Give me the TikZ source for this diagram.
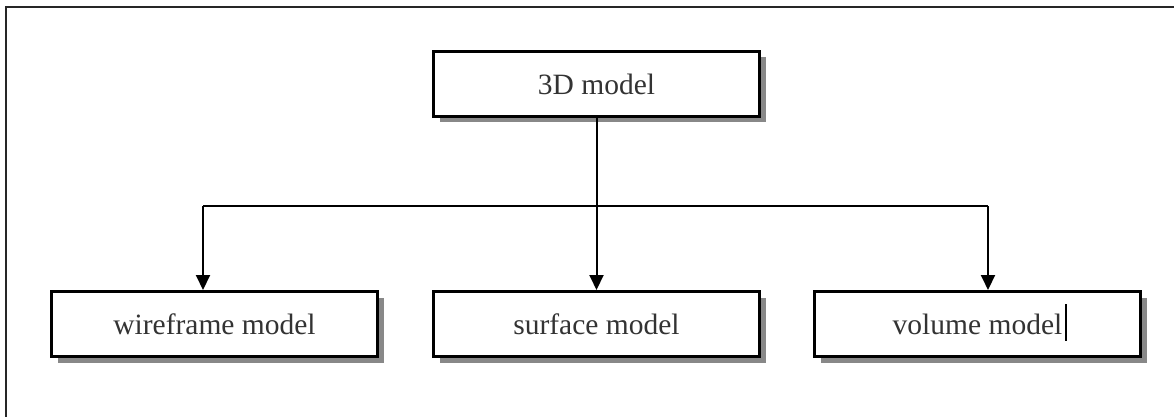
\documentclass[tikz,border=0pt]{standalone}
\usepackage{fontspec}
\setmainfont{Liberation Serif}
\usetikzlibrary{arrows.meta,shadows}
\definecolor{txt}{HTML}{333333}
\definecolor{shade}{HTML}{888888}
\begin{document}
\begin{tikzpicture}[x=1pt,y=-1pt,
  boxnode/.style={draw=black,line width=3pt,fill=white,minimum width=326pt,minimum height=65pt,
    inner sep=0pt,text=txt,font=\fontsize{29.5}{34}\selectfont,
    drop shadow={shadow xshift=6pt,shadow yshift=-6pt,fill=shade,opacity=1}},
  conn/.style={line width=2pt,draw=black},
  arr/.style={conn,-{Triangle[length=15pt,width=14pt]}}]
\useasboundingbox (0,0) rectangle (1174,417);
\draw[line width=2pt,draw=black!85] (6,420) -- (6,7) -- (1178,7);
\node[boxnode] (top) at (596.5,84) {3D model};
\node[boxnode] (wire) at (214.5,324) {wireframe model};
\node[boxnode] (surf) at (596.5,324) {surface model};
\node[boxnode] (vol) at (977.5,324) {volume model};
\coordinate (jl) at (203,206);
\coordinate (jr) at (988,206);
\draw[arr] (top.south) -- (surf.north);
\draw[conn] (jl) -- (jr);
\draw[arr] (jl) -- (jl |- wire.north);
\draw[arr] (jr) -- (jr |- vol.north);
\draw[line width=1.2pt,draw=black] (1066,304) -- (1066,341);
\end{tikzpicture}
\end{document}
